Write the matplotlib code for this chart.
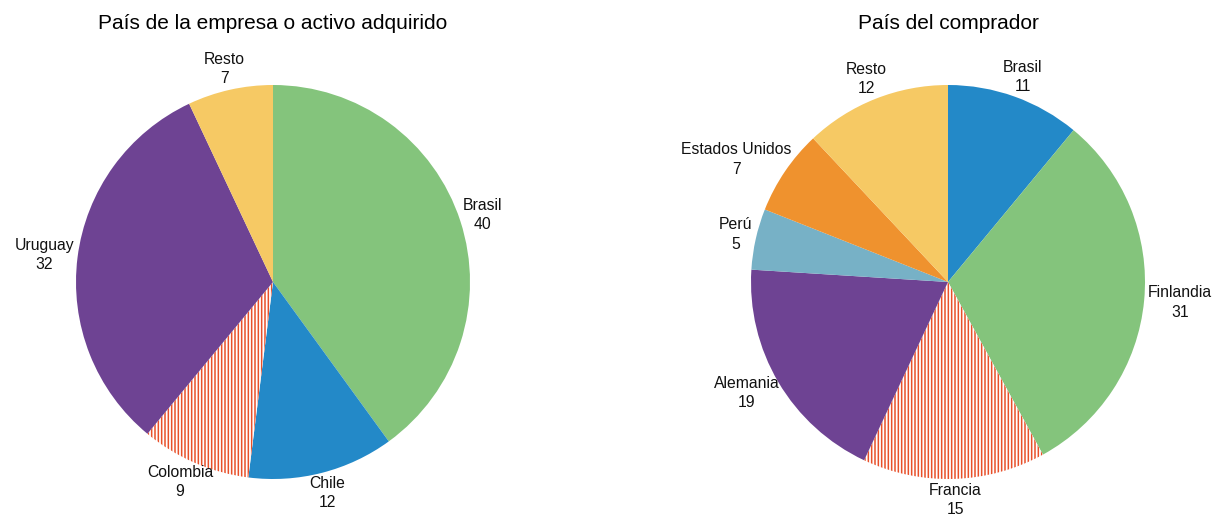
import numpy as np
import matplotlib.pyplot as plt

plt.rcParams['font.family'] = ['Liberation Sans', 'DejaVu Sans']
plt.rcParams['hatch.linewidth'] = 1.1

# datos
empresa_labels = ['Brasil', 'Chile', 'Colombia', 'Uruguay', 'Resto']
empresa_vals = [40, 12, 9, 32, 7]
empresa_colors = ['#84c47c', '#2389c8', 'white', '#6e4393', '#f6c964']

comprador_labels = ['Brasil', 'Finlandia', 'Francia', 'Alemania', 'Perú', 'Estados Unidos', 'Resto']
comprador_vals = [11, 31, 15, 19, 5, 7, 12]
comprador_colors = ['#2389c8', '#84c47c', 'white', '#6e4393', '#77b1c6', '#ef922e', '#f6c964']

hatched = {'Colombia', 'Francia'}


def draw_pie(ax, labels, vals, colors, title):
    texts = [f'{lab}\n{v}' for lab, v in zip(labels, vals)]
    wedges, txts = ax.pie(vals, labels=texts, colors=colors, startangle=90,
                          counterclock=False, labeldistance=1.1,
                          wedgeprops=dict(linewidth=0),
                          textprops=dict(fontsize=11.3, color='#111111'))
    for w, lab in zip(wedges, labels):
        if lab in hatched:
            w.set_hatch('|||||')
            w.set_edgecolor('#e8502a')
            w.set_linewidth(0)
    for t in txts:
        t.set_ha('center')
        t.set_va('center')
        t.set_multialignment('center')
        t.set_linespacing(1.35)
    ax.set_xlim(-1, 1)
    ax.set_ylim(-1, 1)
    ax.set_aspect('equal')
    ax.set_title(title, fontsize=15, pad=40)
    return wedges, txts


def place_labels(ax, wedges, txts, gap=0.02):
    # push each label out so its box sits just outside the pie
    r_px = ax.get_window_extent().width / 2
    renderer = ax.figure.canvas.get_renderer()
    for w, t in zip(wedges, txts):
        ang = np.deg2rad((w.theta1 + w.theta2) / 2)
        dx, dy = np.cos(ang), np.sin(ang)
        bb = t.get_window_extent(renderer)
        hw, hh = bb.width / 2 / r_px, bb.height / 2 / r_px
        t.set_position((dx * (1 + gap) + dx * hw, dy * (1 + gap) + dy * hh))


fig = plt.figure(figsize=(12.19, 5.19), dpi=100)
W, H = 1219, 519
R = 197
ax1 = fig.add_axes([(273 - R) / W, (519 - 282 - R) / H, 2 * R / W, 2 * R / H])
ax2 = fig.add_axes([(948 - R) / W, (519 - 282 - R) / H, 2 * R / W, 2 * R / H])

p1 = draw_pie(ax1, empresa_labels, empresa_vals, empresa_colors,
              'País de la empresa o activo adquirido')
p2 = draw_pie(ax2, comprador_labels, comprador_vals, comprador_colors,
              'País del comprador')

fig.canvas.draw()
place_labels(ax1, *p1)
place_labels(ax2, *p2)

fig.savefig('out.png', dpi=100)
